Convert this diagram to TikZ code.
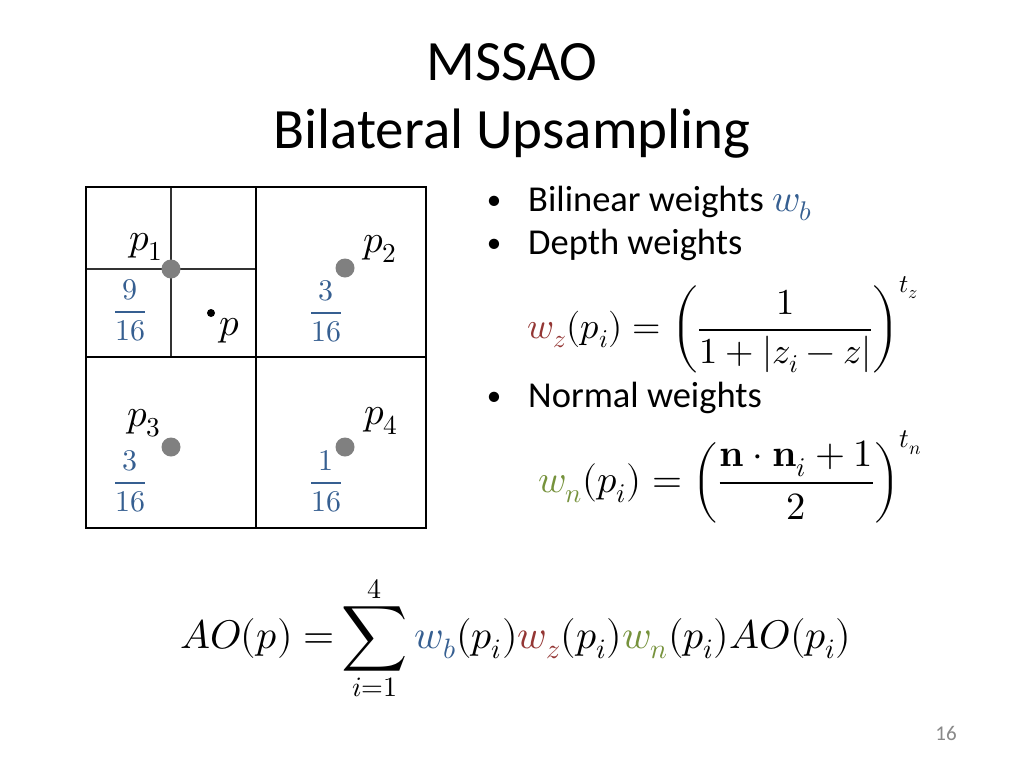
\documentclass[tikz,border=0pt]{standalone}
\usepackage{amsmath}
\usepackage{fontspec}
\usepackage{unicode-math}
\setmainfont{Carlito}
\setmathfont{latinmodern-math.otf}
\definecolor{wblue}{HTML}{365F91}
\definecolor{wred}{HTML}{943634}
\definecolor{wgreen}{HTML}{76923C}
\definecolor{dotgray}{RGB}{128,128,128}
\definecolor{numgray}{RGB}{137,137,137}
\newcommand{\fsz}[1]{\fontsize{#1}{#1}\selectfont}
\newcommand{\bigsum}{\mathop{\vcenter{\hbox{\scalebox{1.15}{$\displaystyle\sum$}}}}\limits}
\begin{document}
\begin{tikzpicture}[x=1pt,y=-1pt,
  gridline/.style={line width=1.3pt,black},
  innerline/.style={line width=1.3pt,black!80},
  bigdot/.style={circle,fill=dotgray,inner sep=0pt,minimum size=19pt},
  smalldot/.style={circle,fill=black,inner sep=0pt,minimum size=8pt},
  plabel/.style={inner sep=0pt,font=\fsz{39}},
  wfrac/.style={inner sep=0pt,font=\fsz{30},text=wblue},
  titletext/.style={anchor=base,inner sep=0pt,font=\fsz{57}},
  bodytext/.style={anchor=base west,inner sep=0pt,font=\fsz{36.5}},
  bullet/.style={anchor=base,inner sep=0pt,font=\fsz{29}},
  eqn/.style={anchor=west,inner sep=0pt,font=\fsz{38.5}}]
\useasboundingbox[fill=white] (0,0) rectangle (1024,768);
% title
\node[titletext] (t1) at (512,80) {MSSAO};
\node[titletext] (t2) at (512,148) {Bilateral Upsampling};
% grid
\draw[innerline] (171,187) -- (171,357);
\draw[innerline] (86,269) -- (256,269);
\draw[gridline] (86,187) rectangle (426,528);
\draw[gridline] (256,187) -- (256,528);
\draw[gridline] (86,357) -- (426,357);
% sample points
\node[bigdot] (d1) at (171,269) {};
\node[bigdot] (d2) at (345,268) {};
\node[bigdot] (d3) at (171,447) {};
\node[bigdot] (d4) at (345,447) {};
\node[smalldot] (dp) at (211,313) {};
\node[plabel] (l1) at (146,247) {$p_1$};
\node[plabel] (l2) at (380,249) {$p_2$};
\node[plabel] (l3) at (144,423) {$p_3$};
\node[plabel] (l4) at (381,421) {$p_4$};
\node[plabel] (lp) at (230,331) {$p$};
\node[wfrac] (f1) at (130,310) {$\dfrac{9}{16}$};
\node[wfrac] (f2) at (326,311) {$\dfrac{3}{16}$};
\node[wfrac] (f3) at (130,481) {$\dfrac{3}{16}$};
\node[wfrac] (f4) at (326,481) {$\dfrac{1}{16}$};
% bullets
\node[bullet] (b1) at (494,209) {•};
\node[bodytext] (bt1) at (528,211) {Bilinear weights {\fsz{38.5}$\color{wblue}w_b$}};
\node[bullet] (b2) at (494,252) {•};
\node[bodytext] (bt2) at (528,254) {Depth weights};
\node[eqn,font=\fsz{36.5}] (ez) at (527,325) {$\color{wred}w_z\color{black}(p_i) = \left(\dfrac{1}{1+|z_i-z|}\right)^{t_z}$};
\node[bullet] (b3) at (494,405) {•};
\node[bodytext] (bt3) at (528,407) {Normal weights};
\node[eqn] (en) at (538,477) {$\color{wgreen}w_n\color{black}(p_i) = \left(\dfrac{\symbf{n}\cdot\symbf{n}_i+1}{2}\right)^{t_n}$};
% main equation
\node[eqn,font=\fsz{40}] (ao) at (180,638) {$\displaystyle AO(p) = \mkern-2mu\bigsum_{i=1}^{4} {\color{wblue}w_b}(p_i){\color{wred}w_z}(p_i){\color{wgreen}w_n}(p_i)AO(p_i)$};
% page number
\node[inner sep=0pt,font=\fsz{21},text=numgray] (pg) at (946,733) {16};
\end{tikzpicture}
\end{document}
